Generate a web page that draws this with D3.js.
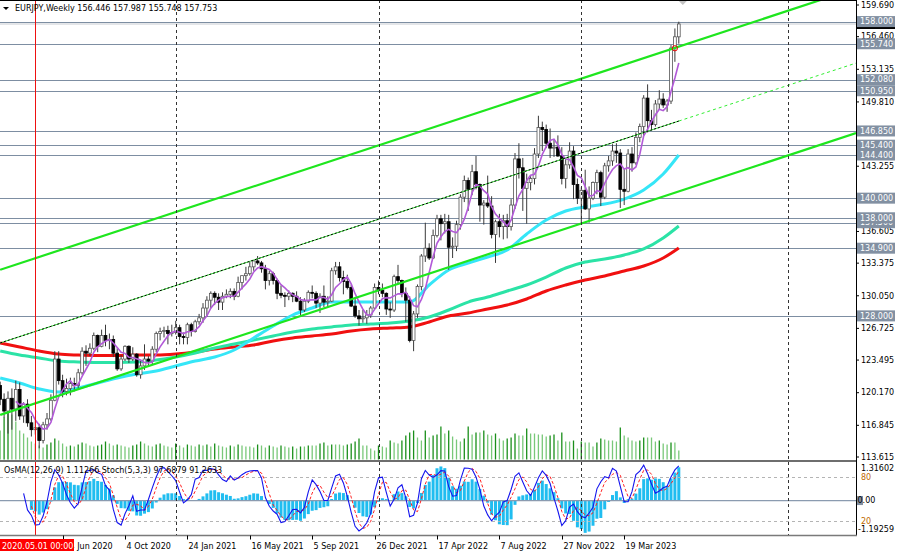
<!DOCTYPE html>
<html>
<head>
<meta charset="utf-8">
<title>EURJPY, Weekly</title>
<script src="https://d3js.org/d3.v7.min.js"></script>
<style>
  body { margin: 0; background: #fff; }
  svg { display: block; }
  text { font-family: "DejaVu Sans", Tahoma, sans-serif; font-size: 8px; }
</style>
</head>
<body>
<svg id="chart" width="900" height="557"></svg>
<script>
// ---- data (weekly bars, first bar = week of 23 Feb 2020) ----
var symbol = "EURJPY,Weekly";
var firstWeek = "2020-02-23";

var opens = [
  120.9,119.5,118.3,119.6,118.5,120.5,117.8,119.0,117.1,116.4,
  116.6,115.3,116.9,117.5,119.4,123.6,121.4,120.3,120.6,121.1,
  120.9,122.2,124.4,124.2,124.7,126.0,124.9,126.0,125.5,125.6,
  124.2,122.6,123.6,124.9,123.6,124.1,122.0,122.9,123.6,123.4,
  124.6,126.2,126.4,126.5,126.2,126.3,126.8,125.9,125.8,127.1,
  126.4,127.4,127.8,128.8,129.6,130.3,129.9,129.4,130.0,130.2,
  130.5,130.0,131.4,132.1,132.3,133.0,133.6,133.4,132.8,131.6,
  132.3,131.6,130.3,130.1,130.0,130.3,130.0,129.5,128.6,129.5,
  130.4,130.3,129.3,130.0,129.4,129.5,132.6,133.0,131.9,131.5,
  130.9,129.0,128.0,127.7,127.8,128.1,128.8,130.9,130.6,130.3,
  128.7,128.6,132.0,131.6,130.3,129.6,125.5,128.2,131.0,134.1,
  134.9,133.9,136.2,137.9,137.4,137.6,135.0,135.1,137.3,140.1,
  141.8,140.9,142.7,141.4,139.3,139.5,139.2,136.3,137.6,137.1,
  137.7,137.1,139.3,144.0,143.1,141.0,141.6,142.0,144.5,147.2,
  147.0,145.6,145.1,145.2,144.3,142.0,143.4,144.8,141.4,140.0,
  140.8,138.9,140.0,141.6,142.6,140.1,143.3,143.8,144.8,144.6,
  140.9,140.7,144.5,143.6,146.2,147.3,150.2,147.9,147.5,149.6,
  150.1,149.5,149.9,155.3,156.446
];
var highs = [
  121.3,120.1,120.3,120.6,121.4,121.2,119.2,119.5,117.8,117.3,
  117.0,117.2,118.1,120.0,124.4,124.4,122.0,121.6,121.7,121.7,
  122.6,124.8,125.0,125.2,126.3,126.1,126.6,127.1,126.2,126.0,
  124.7,124.0,125.0,125.0,124.8,124.2,123.4,125.1,123.9,124.9,
  126.4,126.8,126.9,127.0,127.1,127.5,127.1,126.3,127.3,127.3,
  127.6,128.2,129.3,130.0,130.5,130.5,130.3,130.4,130.7,130.8,
  130.8,132.0,132.1,133.0,133.5,133.7,134.1,133.6,133.2,132.6,
  132.5,131.8,131.1,130.4,130.6,130.4,130.5,129.9,129.8,130.6,
  131.1,130.5,130.3,131.1,130.0,132.9,133.5,133.5,132.6,132.2,
  131.2,129.9,128.6,128.6,128.6,129.0,131.3,131.6,131.3,130.4,
  129.4,132.2,133.2,131.7,130.9,130.0,128.5,131.2,134.3,137.5,
  135.4,136.8,138.3,138.3,138.4,138.3,136.0,137.7,140.4,142.3,
  142.1,143.4,144.3,141.5,139.8,142.3,140.2,137.8,138.4,138.3,
  138.4,139.9,144.6,145.6,144.1,142.5,142.3,145.1,148.4,147.8,
  147.5,147.1,146.0,146.4,145.2,144.0,145.7,145.3,142.0,141.1,
  142.9,141.2,141.7,142.9,142.8,143.6,144.3,145.5,145.6,145.0,
  143.0,145.0,145.2,146.7,147.6,150.5,151.6,149.0,150.0,151.0,
  150.7,150.1,155.6,157.3,157.987
];
var lows = [
  118.9,117.6,116.0,116.4,117.3,117.4,117.1,116.7,115.7,115.9,
  114.5,115.0,116.4,117.3,119.3,121.0,119.7,119.9,119.9,120.3,
  120.6,122.0,122.9,123.9,124.5,124.3,124.8,124.9,124.6,123.8,
  122.4,122.4,123.4,123.2,123.4,121.8,121.6,122.5,122.9,123.1,
  124.3,125.5,125.8,125.1,125.9,126.1,125.1,125.1,125.1,125.9,
  126.3,127.1,127.3,127.9,128.8,129.1,128.6,128.6,129.8,129.8,
  129.6,129.9,130.7,131.6,132.1,132.6,133.2,132.4,130.7,131.1,
  131.2,129.7,129.8,128.9,129.6,129.4,129.4,127.9,128.4,129.3,
  129.8,128.8,128.3,128.9,128.9,129.4,132.2,131.5,130.2,130.7,
  128.9,127.8,127.0,127.3,127.2,127.8,128.7,130.2,129.9,128.1,
  127.8,128.4,131.2,129.9,127.4,125.3,124.4,127.8,130.6,133.5,
  133.7,133.8,136.0,135.7,136.4,132.7,133.9,134.6,136.8,139.6,
  138.7,140.3,140.9,137.6,137.3,139.0,135.9,133.4,136.0,135.8,
  135.9,136.7,138.9,142.0,138.7,137.4,140.8,141.4,144.1,144.8,
  145.1,144.1,144.2,144.2,141.4,141.0,143.0,139.9,139.4,137.4,
  138.8,137.5,139.8,140.4,139.2,139.9,142.7,143.3,143.6,139.0,
  139.3,140.6,142.7,143.4,145.7,146.4,146.7,146.9,147.3,149.0,
  149.2,148.8,149.6,153.9,155.748
];
var closes = [
  119.5,118.3,119.6,118.5,120.5,117.8,119.0,117.1,116.4,116.6,
  115.3,116.9,117.5,119.4,123.6,121.4,120.3,120.6,121.1,120.9,
  122.2,124.4,124.2,124.7,126.0,124.9,126.0,125.5,125.6,124.2,
  122.6,123.6,124.9,123.6,124.1,122.0,122.9,123.6,123.4,124.6,
  126.2,126.4,126.5,126.2,126.3,126.8,125.9,125.8,127.1,126.4,
  127.4,127.8,128.8,129.6,130.3,129.9,129.4,130.0,130.2,130.5,
  130.0,131.4,132.1,132.3,133.0,133.6,133.4,132.8,131.6,132.3,
  131.6,130.3,130.1,130.0,130.3,130.0,129.5,128.6,129.5,130.4,
  130.3,129.3,130.0,129.4,129.5,132.6,133.0,131.9,131.5,130.9,
  129.0,128.0,127.7,127.8,128.1,128.8,130.9,130.6,130.3,128.7,
  128.6,132.0,131.6,130.3,129.6,125.5,128.2,131.0,134.1,134.9,
  133.9,136.2,137.9,137.4,137.6,135.0,135.1,137.3,140.1,141.8,
  140.9,142.7,141.4,139.3,139.5,139.2,136.3,137.6,137.1,137.7,
  137.1,139.3,144.0,143.1,141.0,141.6,142.0,144.5,147.2,147.0,
  145.6,145.1,145.2,144.3,142.0,143.4,144.8,141.4,140.0,140.8,
  138.9,140.0,141.6,142.6,140.1,143.3,143.8,144.8,144.6,140.9,
  140.7,144.5,143.6,146.2,147.3,150.2,147.9,147.5,149.6,150.1,
  149.5,149.9,155.3,156.45,157.753
];
var volumes = [
  29,42,49,45,38,29,26,22,18,16,14,12,15,17,21,19,16,13,14,13,
  15,17,16,14,13,14,15,18,16,14,15,14,13,12,14,15,18,16,14,13,
  15,16,14,13,12,16,14,12,15,14,13,15,14,15,13,16,14,13,12,14,
  13,15,14,13,13,12,15,14,12,14,13,12,14,13,12,
  13,11,13,13,14,14,14,16,17,14,15,15,15,14,15,16,18,21,14,14,
  11,9,14,13,12,19,17,16,19,24,27,29,22,19,29,22,24,25,33,26,
  29,23,20,18,21,33,25,27,27,29,25,24,26,21,19,21,22,26,24,24,
  31,26,26,25,25,23,24,25,19,27,18,18,19,11,18,17,17,13,17,21,
  20,19,19,18,32,24,22,19,18,19,22,22,22,18,19,16,15,17,17,9
];

// moving averages read at every 5th bar (bar number from the first week)
var maBars = [0,5,10,15,20,25,30,35,40,45,50,55,60,65,70,75,80,85,90,95,100,105,110,115,120,125,130,135,140,145,150,155,160,165,170,174];
var maRed = [125.24,124.83,124.42,124.11,124.01,123.96,123.96,124.01,124.01,124.11,124.32,124.62,124.83,125.03,125.44,125.75,125.95,126.15,126.46,126.66,126.76,126.87,127.38,127.99,128.29,128.70,129.11,129.72,130.54,131.15,131.66,132.07,132.57,133.08,133.90,134.92];
var maTeal = [124.42,124.01,123.71,123.40,123.30,123.25,123.25,123.30,123.50,123.81,124.22,124.73,125.13,125.54,125.95,126.36,126.66,126.87,127.07,127.17,127.27,127.48,127.89,128.60,129.41,129.92,130.54,131.15,131.96,132.88,133.49,133.80,134.21,134.82,135.94,137.16];
var maCyan = [121.67,121.16,120.55,120.24,120.65,121.16,121.67,122.08,122.38,122.89,123.40,123.81,124.52,125.75,126.97,128.09,128.80,129.41,129.41,129.41,129.41,129.41,131.15,132.68,133.39,134.00,134.72,136.35,137.77,138.69,139.10,139.40,139.91,140.83,142.46,144.40];

// trend channel anchors (bar number, price)
var channelBars = [0, 174];
var channelUpper = [132.70, 155.45];
var channelMid = [125.24, 147.86];
var channelLower = [117.90, 140.69];

var levels = [158.000, 155.740, 152.080, 150.950, 146.850, 145.400, 144.400, 140.000, 138.000, 137.500, 134.900, 128.000];
var priceTicks = [159.690, 156.460, 153.135, 149.810, 146.580, 143.255, 139.930, 136.605, 133.375, 130.050, 126.725, 123.495, 120.170, 116.845, 113.615];
var dateTicks = ["2020-06-14", "2020-10-04", "2021-01-24", "2021-05-16", "2021-09-05", "2021-12-26", "2022-04-17", "2022-08-07", "2022-11-27", "2023-03-19"];
var yearStarts = ["2021-01-03", "2022-01-02", "2023-01-01", "2024-01-07"];
var markerDate = "2020-04-26", markerLabel = "2020.05.01 00:00";
var signalBar = 173, signalPrice = 155.28;
var oscHeader = "OsMA(12,26,9) 1.11266  Stoch(5,3,3) 97.6879 91.2633";
var oscRange = [-1.19259, 1.31602];

// ---- layout ----
var W = 856, mainBottom = 461, oscTop = 462, oscBottom = 535.5;
var svg = d3.select("#chart");
var parse = d3.utcParse("%Y-%m-%d");
var start = parse(firstWeek);
var weeks = closes.map(function(d, k) { return d3.utcWeek.offset(start, k); });

var x = d3.scaleUtc().domain([weeks[0], weeks[weeks.length - 1]]).range([0.2, 678.8]);
var y = d3.scaleLinear().domain([113.615, 159.690]).range([457, 5]);
var yVol = d3.scaleLinear().domain([0, 50]).range([459.5, 409.5]);
var yOsma = d3.scaleLinear().domain(oscRange).range([oscBottom, oscTop]);
var yStoch = d3.scaleLinear().domain([0, 100]).range([oscBottom, oscTop]);
var xBar = function(k) { return x(d3.utcWeek.offset(start, k)); };

var defs = svg.append("defs");
defs.append("clipPath").attr("id", "clipMain").append("rect").attr("x", 0).attr("y", 0).attr("width", W).attr("height", mainBottom);
defs.append("clipPath").attr("id", "clipOsc").append("rect").attr("x", 0).attr("y", oscTop).attr("width", W).attr("height", oscBottom - oscTop);

var main = svg.append("g").attr("clip-path", "url(#clipMain)");
var osc = svg.append("g").attr("clip-path", "url(#clipOsc)");

// level lines
main.selectAll(".lvl").data(levels).enter().append("line")
  .attr("x1", 0).attr("x2", W)
  .attr("y1", function(d) { return Math.round(y(d)) + 0.5; })
  .attr("y2", function(d) { return Math.round(y(d)) + 0.5; })
  .attr("stroke", "#7d8ea2").attr("stroke-width", 1);

// bid line
var last = closes.length - 1;
main.append("line").attr("x1", 0).attr("x2", W)
  .attr("y1", y(closes[last])).attr("y2", y(closes[last]))
  .attr("stroke", "#c8ccd2").attr("stroke-width", 1);

// year separators (both panels)
yearStarts.forEach(function(d) {
  var xx = Math.round(x(parse(d))) + 0.5;
  svg.append("line").attr("x1", xx).attr("x2", xx).attr("y1", 0).attr("y2", oscBottom)
    .attr("stroke", "#333").attr("stroke-width", 1).attr("stroke-dasharray", "3,3");
});

// volumes
main.selectAll(".vol").data(volumes).enter().append("line")
  .attr("x1", function(d, k) { return xBar(k); })
  .attr("x2", function(d, k) { return xBar(k); })
  .attr("y1", yVol(0)).attr("y2", function(d) { return yVol(d); })
  .attr("stroke", function(d, k) { return (k > 0 && d > volumes[k - 1]) ? "#1a8f1a" : "#79c879"; })
  .attr("stroke-width", 1.3);

// long moving averages
function maLine(vals, color, w) {
  var line = d3.line().curve(d3.curveMonotoneX)
    .x(function(d, j) { return xBar(maBars[j]); })
    .y(function(d) { return y(d); });
  main.append("path").datum(vals).attr("d", line)
    .attr("fill", "none").attr("stroke", color).attr("stroke-width", w).attr("stroke-linejoin", "round");
}
maLine(maRed, "#f01010", 3);
maLine(maTeal, "#2be3a6", 3);
maLine(maCyan, "#35e6f7", 3);

// candles
var bars = closes.map(function(c, k) { return { k: k, o: opens[k], h: highs[k], l: lows[k], c: c }; });
main.selectAll(".wick").data(bars).enter().append("line")
  .attr("x1", function(d) { return xBar(d.k); }).attr("x2", function(d) { return xBar(d.k); })
  .attr("y1", function(d) { return y(d.h); }).attr("y2", function(d) { return y(d.l); })
  .attr("stroke", "#3a3a3a").attr("stroke-width", 1);
main.selectAll(".body").data(bars).enter().append("rect")
  .attr("x", function(d) { return xBar(d.k) - 1.4; })
  .attr("width", 2.8)
  .attr("y", function(d) { return y(Math.max(d.o, d.c)); })
  .attr("height", function(d) { return Math.max(1, Math.abs(y(d.o) - y(d.c))); })
  .attr("fill", function(d) { return d.c >= d.o ? "#fff" : "#000"; })
  .attr("stroke", function(d) { return d.c >= d.o ? "#555" : "#000"; })
  .attr("stroke-width", 0.8);

// short moving average (5-bar simple average of closes)
var sma5 = [];
closes.forEach(function(c, k) {
  if (k >= 4) sma5.push({ k: k, v: d3.mean(closes.slice(k - 4, k + 1)) });
});
main.append("path").datum(sma5)
  .attr("d", d3.line().x(function(d) { return xBar(d.k); }).y(function(d) { return y(d.v); }))
  .attr("fill", "none").attr("stroke", "#b25ad8").attr("stroke-width", 1.6);

// trend channel
var edgeBar = (x.invert(W) - weeks[0]) / (7 * 864e5);
function chanAt(vals, k) {
  var t = (k - channelBars[0]) / (channelBars[1] - channelBars[0]);
  return vals[0] + t * (vals[1] - vals[0]);
}
[channelUpper, channelLower].forEach(function(vals) {
  main.append("line")
    .attr("x1", xBar(channelBars[0])).attr("y1", y(vals[0]))
    .attr("x2", W).attr("y2", y(chanAt(vals, edgeBar)))
    .attr("stroke", "#1ee61e").attr("stroke-width", 2.2);
});
main.append("line")
  .attr("x1", xBar(channelBars[0])).attr("y1", y(channelMid[0]))
  .attr("x2", xBar(channelBars[1])).attr("y2", y(channelMid[1]))
  .attr("stroke", "#33dd33").attr("stroke-width", 1);
main.append("line")
  .attr("x1", xBar(channelBars[0])).attr("y1", y(channelMid[0]))
  .attr("x2", xBar(channelBars[1])).attr("y2", y(channelMid[1]))
  .attr("stroke", "#000").attr("stroke-width", 1).attr("stroke-dasharray", "2,2");
main.append("line")
  .attr("x1", xBar(channelBars[1])).attr("y1", y(channelMid[1]))
  .attr("x2", W).attr("y2", y(chanAt(channelMid, edgeBar)))
  .attr("stroke", "#33ee33").attr("stroke-width", 1).attr("stroke-dasharray", "3,3");

// signal circle
main.append("circle").attr("cx", xBar(signalBar)).attr("cy", y(signalPrice)).attr("r", 2.6)
  .attr("fill", "none").attr("stroke", "#e00").attr("stroke-width", 1);

// chart shift mark
var sx = xBar(last) + 4;
svg.append("path").attr("d", "M" + (sx - 5) + ",0L" + (sx + 5) + ",0L" + sx + ",5Z").attr("fill", "#c4c4c4");

// ---- oscillator: OsMA(12,26,9) + Stoch(5,3,3) ----
function ema(src, n) {
  var a = 2 / (n + 1), out = [], prev = src[0];
  src.forEach(function(v) { prev = prev + a * (v - prev); out.push(prev); });
  return out;
}
var e12 = ema(closes, 12), e26 = ema(closes, 26);
var macd = e12.map(function(v, k) { return v - e26[k]; });
var osma = [];
macd.forEach(function(v, k) {
  if (k >= 8) osma.push({ k: k, v: v - d3.mean(macd.slice(k - 8, k + 1)) });
});
var hh = [], ll = [];
closes.forEach(function(c, k) {
  if (k >= 4) { hh[k] = d3.max(highs.slice(k - 4, k + 1)); ll[k] = d3.min(lows.slice(k - 4, k + 1)); }
});
var kLine = [];
closes.forEach(function(c, k) {
  if (k >= 6) {
    var num = 0, den = 0;
    for (var j = k - 2; j <= k; j++) { num += closes[j] - ll[j]; den += hh[j] - ll[j]; }
    kLine.push({ k: k, v: den > 0 ? 100 * num / den : 50 });
  }
});
var dLine = [];
kLine.forEach(function(d, j) {
  if (j >= 2) dLine.push({ k: d.k, v: (kLine[j].v + kLine[j - 1].v + kLine[j - 2].v) / 3 });
});

osc.selectAll(".hist").data(osma).enter().append("rect")
  .attr("x", function(d) { return xBar(d.k) - 1.5; })
  .attr("width", 3)
  .attr("y", function(d) { return Math.min(yOsma(d.v), yOsma(0)); })
  .attr("height", function(d) { return Math.abs(yOsma(d.v) - yOsma(0)); })
  .attr("fill", "#20bdf0");

osc.append("line").attr("x1", 0).attr("x2", W).attr("y1", yOsma(0)).attr("y2", yOsma(0))
  .attr("stroke", "#8b9bb0").attr("stroke-width", 1.2);
[80, 20].forEach(function(v) {
  osc.append("line").attr("x1", 0).attr("x2", W).attr("y1", Math.round(yStoch(v)) + 0.5).attr("y2", Math.round(yStoch(v)) + 0.5)
    .attr("stroke", "#b4b4b4").attr("stroke-width", 1).attr("stroke-dasharray", "3,3");
});
var sLine = d3.line().x(function(d) { return xBar(d.k); }).y(function(d) { return yStoch(d.v); });
osc.append("path").datum(dLine).attr("d", sLine).attr("fill", "none")
  .attr("stroke", "#ff2020").attr("stroke-width", 1).attr("stroke-dasharray", "3,2");
osc.append("path").datum(kLine).attr("d", sLine).attr("fill", "none")
  .attr("stroke", "#1515ee").attr("stroke-width", 1.1);

// red vertical marker line
var mx = Math.round(x(parse(markerDate))) + 0.5;
svg.append("line").attr("x1", mx).attr("x2", mx).attr("y1", 0).attr("y2", oscBottom)
  .attr("stroke", "#ee1111").attr("stroke-width", 1);

// frames
svg.append("line").attr("x1", 0).attr("x2", W).attr("y1", 0.5).attr("y2", 0.5).attr("stroke", "#000");
svg.append("line").attr("x1", W + 0.5).attr("x2", W + 0.5).attr("y1", 0).attr("y2", oscBottom).attr("stroke", "#000");
svg.append("line").attr("x1", 0).attr("x2", W).attr("y1", 461).attr("y2", 461).attr("stroke", "#6e6e6e").attr("stroke-width", 2);
svg.append("line").attr("x1", 0).attr("x2", W + 1).attr("y1", oscBottom).attr("y2", oscBottom).attr("stroke", "#7a7a7a").attr("stroke-width", 1.5);

// headers
svg.append("path").attr("d", "M3,7L9,7L6,10Z").attr("fill", "#000");
svg.append("text").attr("x", 15).attr("y", 11)
  .text(symbol + "  " + [opens[last], highs[last], lows[last], closes[last]].map(function(v) { return v.toFixed(3); }).join(" "));
svg.append("text").attr("x", 4).attr("y", 473).text(oscHeader);

// ---- price axis ----
var ax = svg.append("g");
priceTicks.forEach(function(v) {
  ax.append("line").attr("x1", W).attr("x2", W + 3).attr("y1", y(v)).attr("y2", y(v)).attr("stroke", "#000");
  ax.append("text").attr("x", 861).attr("y", y(v)).attr("dy", "0.35em").text(v.toFixed(3));
});
// current price box
ax.append("rect").attr("x", 857).attr("y", y(closes[last]) - 5).attr("width", 38).attr("height", 10).attr("fill", "#000");
ax.append("text").attr("x", 860).attr("y", y(closes[last])).attr("dy", "0.35em").attr("fill", "#fff").text(closes[last].toFixed(3));
// level boxes
levels.slice().sort(d3.ascending).forEach(function(v) {
  ax.append("rect").attr("x", 857).attr("y", y(v) - 5.5).attr("width", 38).attr("height", 11).attr("fill", "#8290a2");
  ax.append("text").attr("x", 860).attr("y", y(v)).attr("dy", "0.35em").attr("fill", "#fff").text(v.toFixed(3));
});
// oscillator scale
ax.append("text").attr("x", 861).attr("y", yOsma(oscRange[1]) + 6).attr("dy", "0.35em").text(oscRange[1].toFixed(5));
ax.append("text").attr("x", 861).attr("y", yStoch(80)).attr("dy", "0.35em").attr("fill", "#c06a00").text("80");
ax.append("rect").attr("x", 857).attr("y", yOsma(0) - 4.5).attr("width", 6).attr("height", 9).attr("fill", "#8290a2");
ax.append("text").attr("x", 857.5).attr("y", yOsma(0)).attr("dy", "0.35em").text((0).toFixed(2));
ax.append("text").attr("x", 861).attr("y", yStoch(20)).attr("dy", "0.35em").attr("fill", "#c06a00").text("20");
ax.append("text").attr("x", 858).attr("y", yOsma(oscRange[0]) - 6).attr("dy", "0.35em").text(oscRange[0].toFixed(5));

// ---- time axis ----
var fmt = d3.utcFormat("%-d %b %Y");
var tx = svg.append("g");
dateTicks.forEach(function(d) {
  var t = parse(d), xx = Math.round(x(t)) + 0.5;
  tx.append("line").attr("x1", xx).attr("x2", xx).attr("y1", oscBottom).attr("y2", oscBottom + 4).attr("stroke", "#000");
  tx.append("text").attr("x", xx + 1).attr("y", 549).text(fmt(t));
});
tx.append("rect").attr("x", 0).attr("y", 539).attr("width", 74).attr("height", 12).attr("fill", "#ff0000");
tx.append("text").attr("x", 2).attr("y", 549).attr("fill", "#fff").text(markerLabel);
</script>
</body>
</html>
